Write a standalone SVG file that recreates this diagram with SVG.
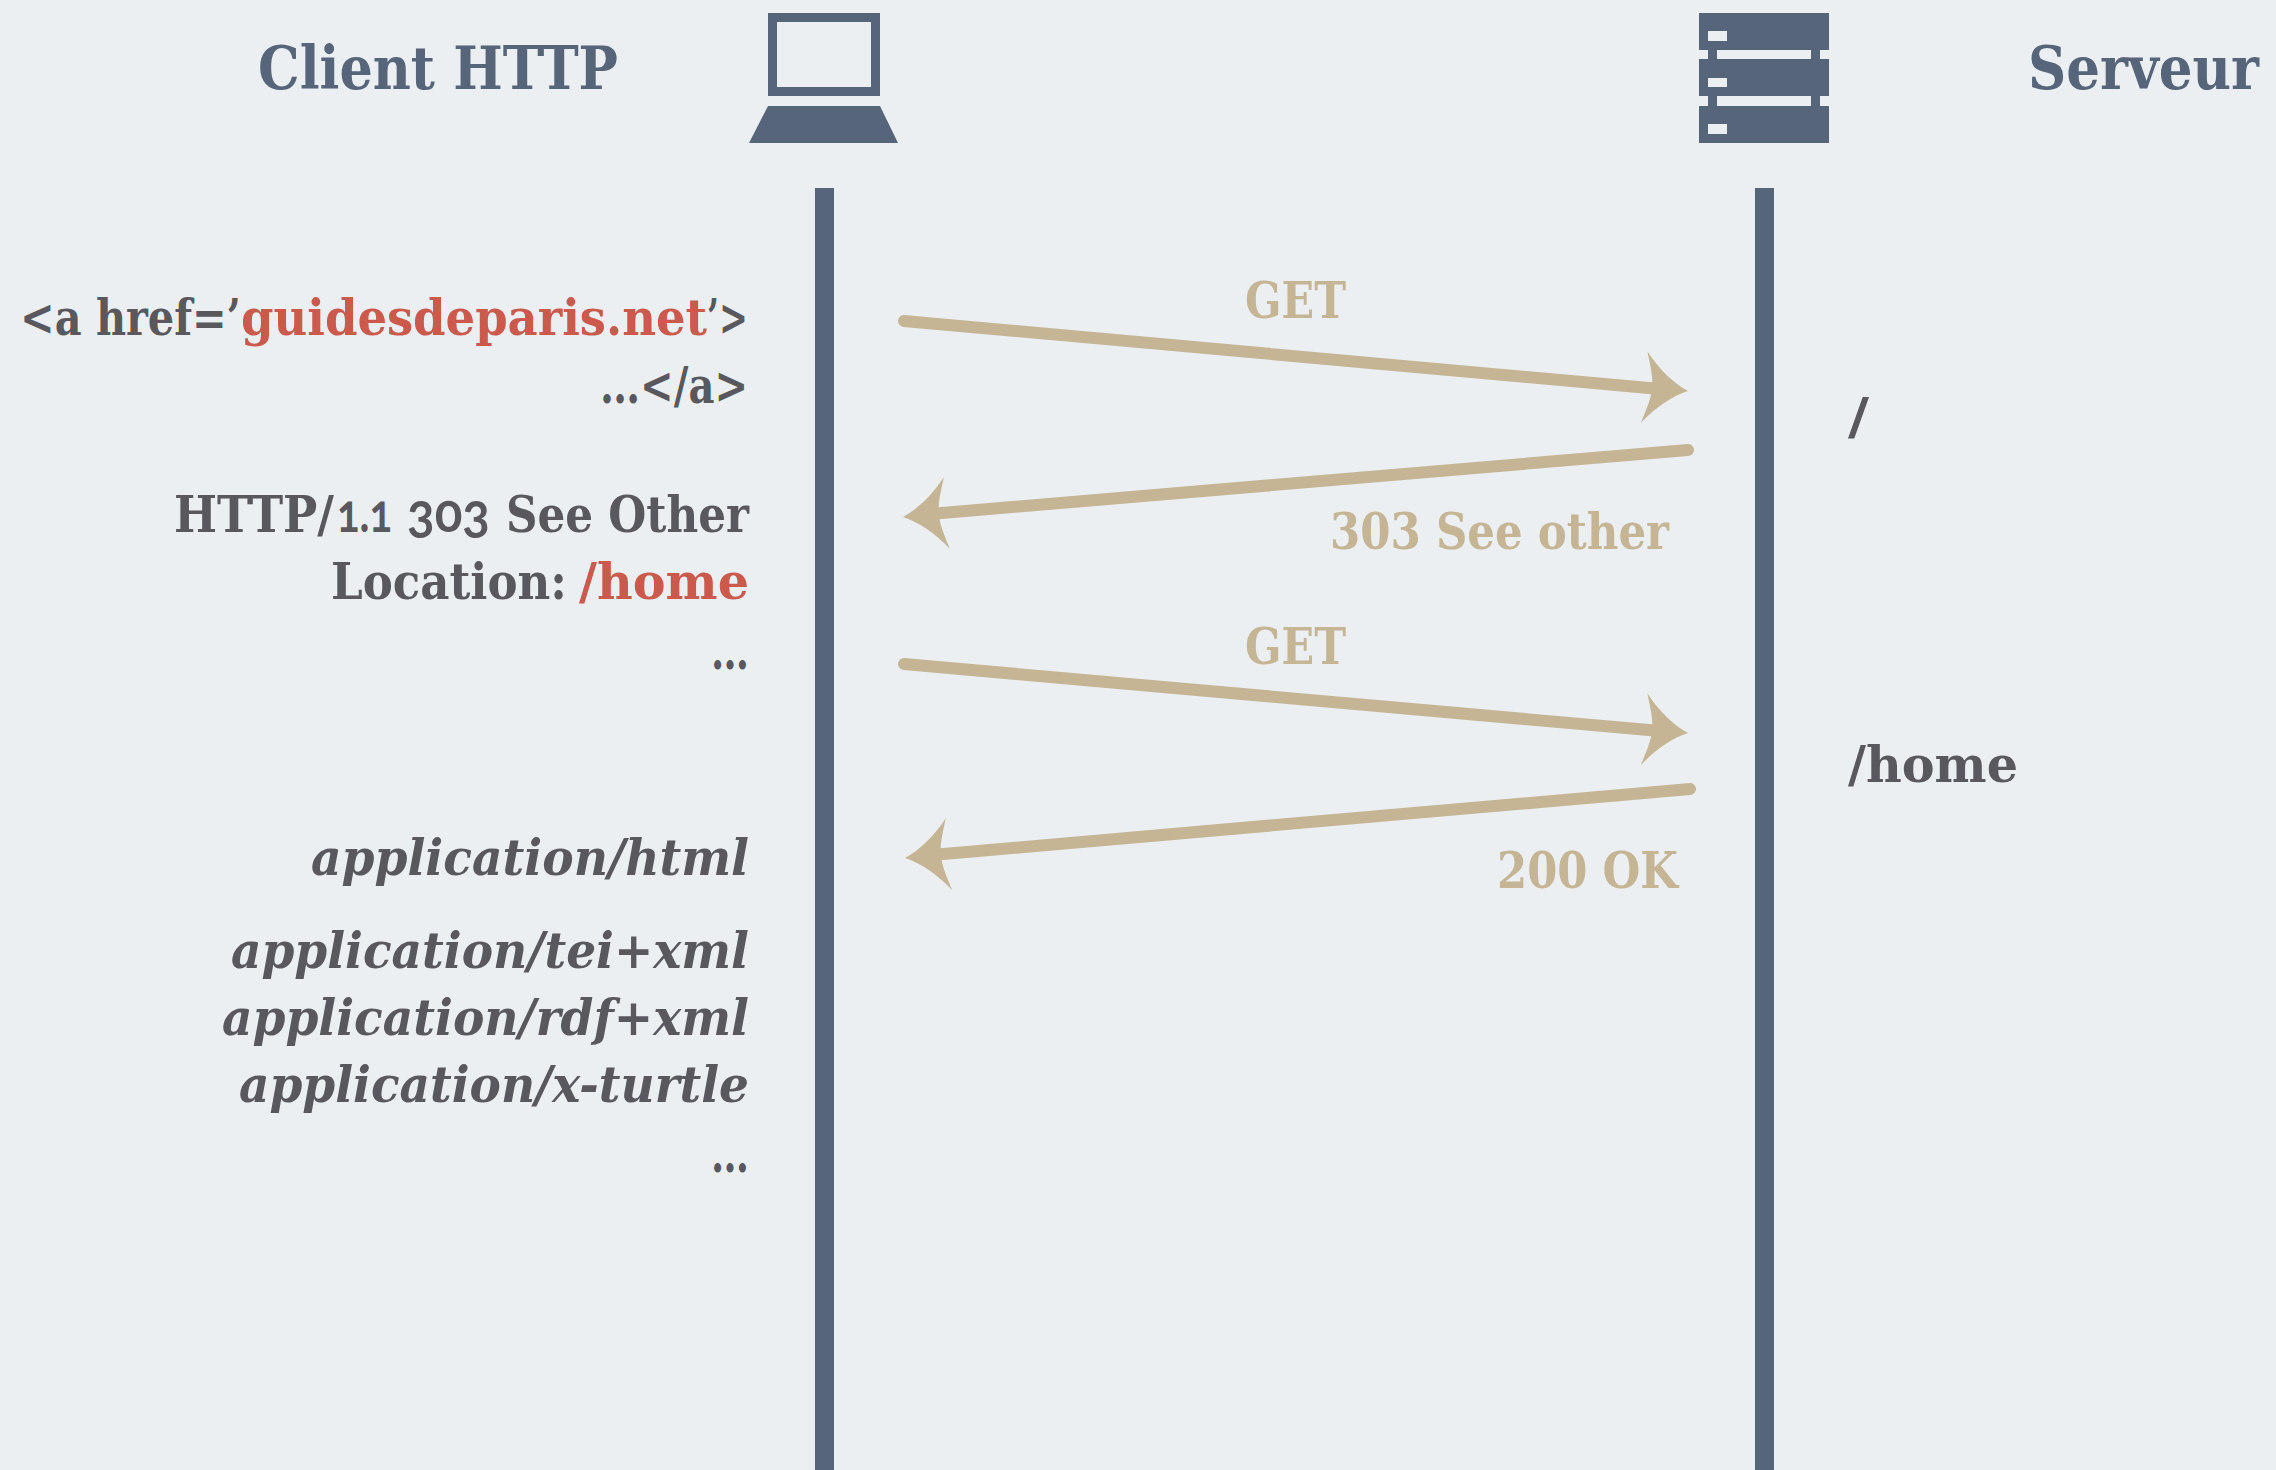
<svg xmlns="http://www.w3.org/2000/svg" width="2276" height="1470" viewBox="0 0 2276 1470">
<style>
text{font-family:"DejaVu Serif Condensed","DejaVu Serif",serif;font-weight:700}
.h{font-size:60px;fill:#56657a}
.t{font-size:50px;fill:#58585e}
.i{font-style:italic}
.red{fill:#cb5a4d}
.n{font-family:"Lato",sans-serif;font-variant-numeric:oldstyle-nums;font-size:53px}
.a{font-size:50px;fill:#c5b595}
.line{stroke:#c5b595;stroke-width:12;stroke-linecap:round;fill:none}
.head{fill:#c5b595}
.ic{fill:#56657a}
.bg{fill:#ebeff2}
</style>
<defs>
<path id="hd" d="M0 0C-14 6-30 18-44 36C-40 22-36 12-36 0C-36-12-40-22-44-36C-30-18-14-6 0 0Z"/>
</defs>
<rect width="2276" height="1470" fill="#ebeff2"/>
<g id="client-label"><text class="h" x="258" y="89" textLength="360" lengthAdjust="spacingAndGlyphs">Client HTTP</text></g>
<g id="laptop"><path class="ic" fill-rule="evenodd" d="M768 13H880V96H768ZM777 22V87H871V22Z"/><path class="ic" d="M768 106H880L898 143H749Z"/></g>
<g id="server"><path class="ic" d="M1699 13H1829V50H1820V59H1829V96H1699V59H1708V50H1699ZM1699 106H1829V143H1699Z"/>
<rect class="bg" x="1717" y="50" width="94" height="9"/><rect class="ic" x="1811" y="50" width="9" height="9"/><rect class="ic" x="1708" y="50" width="9" height="9"/>
<rect class="bg" x="1699" y="96" width="130" height="10"/><rect class="ic" x="1708" y="96" width="9" height="10"/><rect class="ic" x="1811" y="96" width="9" height="10"/>
<rect class="bg" x="1708" y="31" width="19" height="10"/><rect class="bg" x="1708" y="78" width="19" height="9"/><rect class="bg" x="1708" y="124" width="19" height="10"/></g>
<g id="server-label"><text class="h" x="2028" y="89" textLength="231" lengthAdjust="spacingAndGlyphs">Serveur</text></g>
<g id="lifeline-client"><rect class="ic" x="815" y="188" width="19" height="1282"/></g>
<g id="lifeline-server"><rect class="ic" x="1755" y="188" width="19" height="1282"/></g>
<g id="connectors">
<path class="line" d="M904 321L1660 389"/><use href="#hd" class="head" transform="translate(1688 391) rotate(5.2)"/>
<path class="line" d="M1688 450L930 514"/><use href="#hd" class="head" transform="translate(903 517) rotate(175.1)"/>
<path class="line" d="M904 664L1660 731"/><use href="#hd" class="head" transform="translate(1688 733) rotate(5.1)"/>
<path class="line" d="M1690 789L932 855"/><use href="#hd" class="head" transform="translate(905 858) rotate(175)"/>
</g>
<g id="labels-arrows">
<text class="a" x="1245" y="318" textLength="101" lengthAdjust="spacingAndGlyphs">GET</text>
<text class="a" x="1330" y="549" textLength="339" lengthAdjust="spacingAndGlyphs">303 See other</text>
<text class="a" x="1245" y="664" textLength="101" lengthAdjust="spacingAndGlyphs">GET</text>
<text class="a" x="1497" y="888" textLength="181" lengthAdjust="spacingAndGlyphs">200 OK</text>
</g>
<g id="client-texts">
<text class="t" y="335"><tspan x="20" textLength="221" lengthAdjust="spacingAndGlyphs">&lt;a href=’</tspan><tspan class="red" x="241" textLength="466" lengthAdjust="spacingAndGlyphs">guidesdeparis.net</tspan><tspan x="707" textLength="41" lengthAdjust="spacingAndGlyphs">’&gt;</tspan></text>
<text class="t" x="600" y="403" textLength="148" lengthAdjust="spacingAndGlyphs">…&lt;/a&gt;</text>
<text class="t" y="532"><tspan x="174" textLength="160" lengthAdjust="spacingAndGlyphs">HTTP/</tspan><tspan class="n" x="337" textLength="55" lengthAdjust="spacingAndGlyphs">1.1</tspan><tspan class="n" x="407" textLength="83" lengthAdjust="spacingAndGlyphs">303</tspan><tspan x="506" textLength="243" lengthAdjust="spacingAndGlyphs">See Other</tspan></text>
<text class="t" y="599"><tspan x="331" textLength="236" lengthAdjust="spacingAndGlyphs">Location:</tspan><tspan class="red" x="579" textLength="170" lengthAdjust="spacingAndGlyphs">/home</tspan></text>
<text class="t" x="711" y="669" textLength="38" lengthAdjust="spacingAndGlyphs">…</text>
<text class="t i" x="311" y="875" textLength="438" lengthAdjust="spacingAndGlyphs">application/html</text>
<text class="t i" x="231" y="968" textLength="518" lengthAdjust="spacingAndGlyphs">application/tei+xml</text>
<text class="t i" x="222" y="1035" textLength="527" lengthAdjust="spacingAndGlyphs">application/rdf+xml</text>
<text class="t i" x="239" y="1102" textLength="510" lengthAdjust="spacingAndGlyphs">application/x-turtle</text>
<text class="t" x="711" y="1172" textLength="38" lengthAdjust="spacingAndGlyphs">…</text>
</g>
<g id="server-texts">
<text class="t" x="1848" y="434" textLength="21" lengthAdjust="spacingAndGlyphs">/</text>
<text class="t" x="1848" y="782" textLength="170" lengthAdjust="spacingAndGlyphs">/home</text>
</g>
</svg>
